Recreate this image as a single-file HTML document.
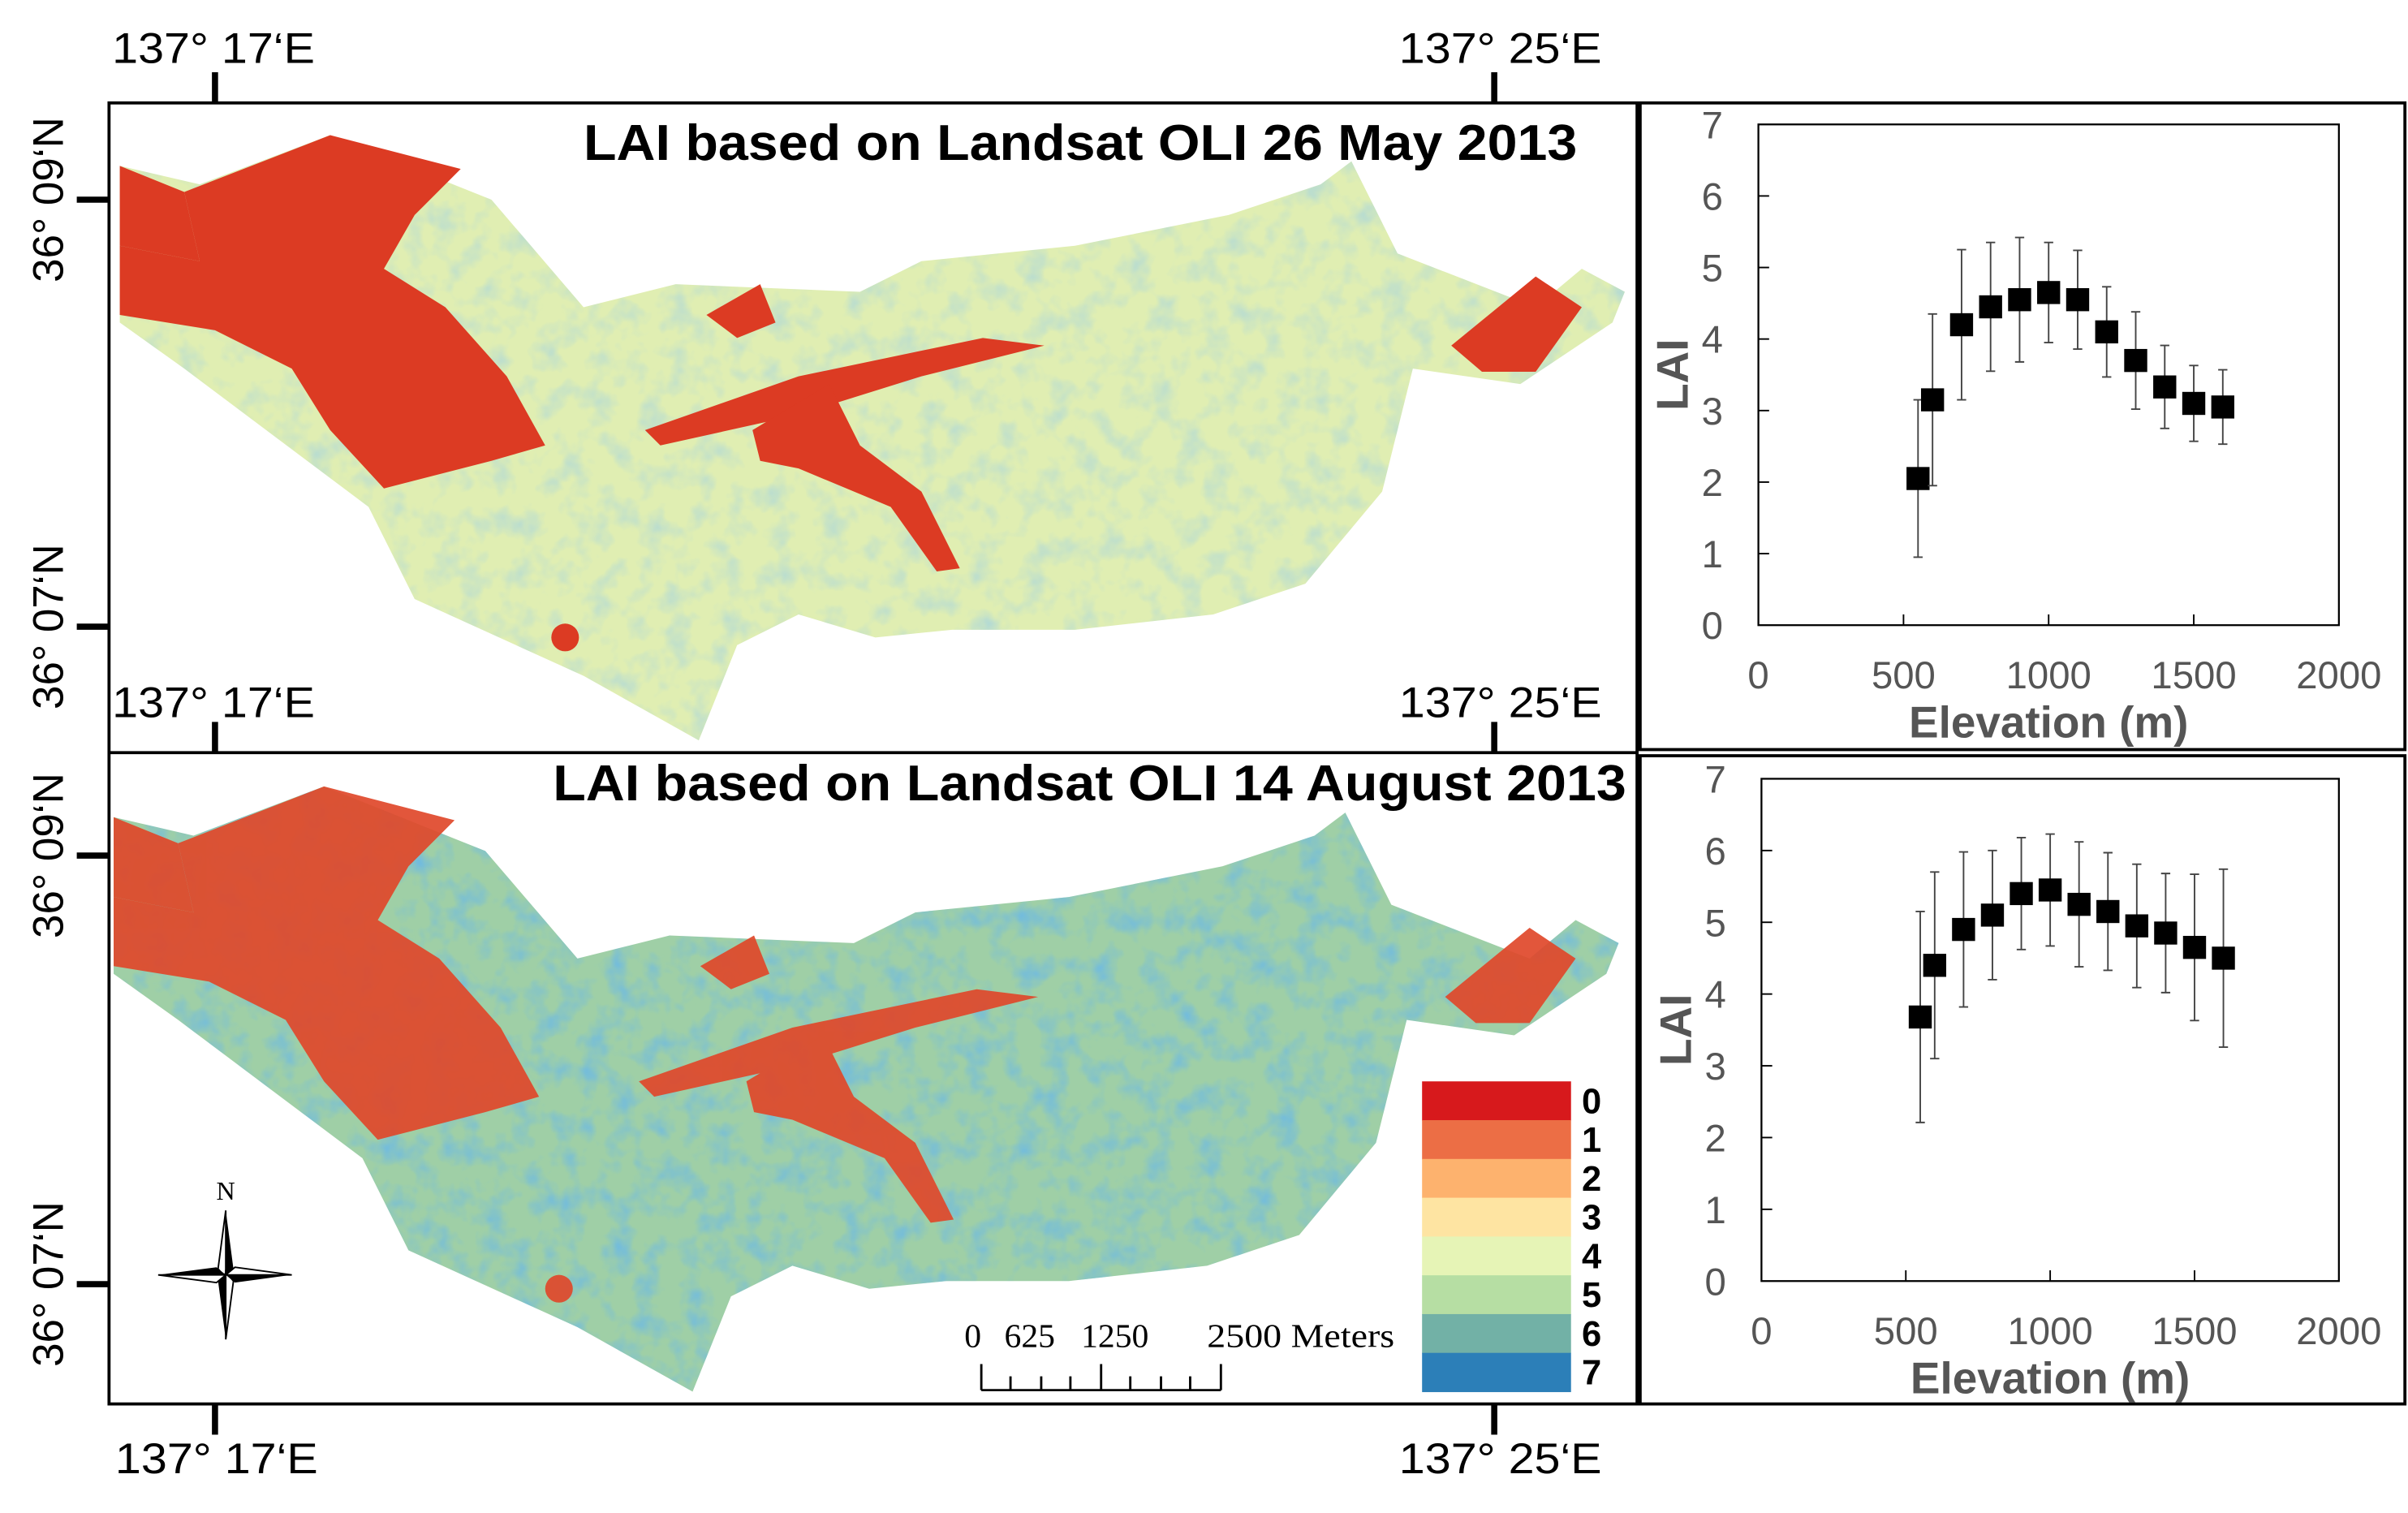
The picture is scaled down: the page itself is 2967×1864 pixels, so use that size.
<!DOCTYPE html>
<html><head><meta charset="utf-8">
<style>
html,body{margin:0;padding:0;background:#fff;}
svg{display:block;}
text{font-family:"Liberation Sans",sans-serif;}
text.serif{font-family:"Liberation Serif",serif;}
</style></head>
<body>
<svg id="fig" width="2967" height="1864" viewBox="0 0 1568 985" preserveAspectRatio="none" xmlns="http://www.w3.org/2000/svg">
<defs>
  <filter id="noiseTop" x="0" y="0" width="100%" height="100%">
    <feTurbulence type="fractalNoise" baseFrequency="0.06" numOctaves="3" seed="5"/>
    <feColorMatrix type="matrix" values="0 0 0 0 0.45  0 0 0 0 0.7  0 0 0 0 0.66  0 0 0 1.8 -0.8"/>
    <feComposite in2="SourceGraphic" operator="in"/>
  </filter>
  <filter id="noiseBot" x="0" y="0" width="100%" height="100%">
    <feTurbulence type="fractalNoise" baseFrequency="0.06" numOctaves="3" seed="9"/>
    <feColorMatrix type="matrix" values="0 0 0 0 0.17  0 0 0 0 0.5  0 0 0 0 0.72  0 0 0 2.0 -0.85"/>
    <feComposite in2="SourceGraphic" operator="in"/>
  </filter>
  <polygon id="basin" points="78,108 130,120 215,88 320,130 380,200 440,185 560,190 600,170 700,160 800,140 860,120 880,105 910,165 1000,200 1030,175 1058,190 1050,210 990,250 920,240 900,320 850,380 790,400 700,410 620,410 570,415 520,400 480,420 455,482 380,440 270,390 240,330 200,300 120,240 78,210"/>
  <g id="redzones">
    <polygon points="78,108 120,125 130,170 78,160"/>
    <polygon points="120,125 215,88 300,110 270,140 250,175 290,200 330,245 355,290 320,300 250,318 215,280 190,240 140,215 78,205 78,160 130,170"/>
    <polygon points="420,280 520,245 640,220 680,225 600,245 520,270 430,290"/>
    <polygon points="490,280 540,250 560,290 600,320 625,370 610,372 580,330 520,305 495,300"/>
    <polygon points="460,205 495,185 505,210 480,220"/>
    <polygon points="945,225 1000,180 1030,200 1000,242 965,242"/>
    <circle cx="368" cy="415" r="9"/>
  </g>
</defs>

<rect x="71" y="67" width="995" height="847" fill="none" stroke="#000" stroke-width="2"/>
<line x1="71" y1="490" x2="1066" y2="490" stroke="#000" stroke-width="2"/>
<rect x="1068" y="67" width="498" height="421" fill="none" stroke="#000" stroke-width="2"/>
<rect x="1068" y="492" width="498" height="422" fill="none" stroke="#000" stroke-width="2"/>

<g>
  <use href="#basin" fill="#e0eeb2"/>
  <use href="#basin" fill="#000" filter="url(#noiseTop)"/>
  <use href="#redzones" fill="#dc3b23"/>
</g>
<g transform="translate(-4,424)">
  <use href="#basin" fill="#9fcfa6"/>
  <use href="#basin" fill="#000" filter="url(#noiseBot)"/>
  <use href="#redzones" fill="#e0482a" opacity="0.92"/>
</g>

<text x="380" y="104" font-size="33" font-weight="bold" textLength="647" lengthAdjust="spacingAndGlyphs">LAI based on Landsat OLI 26 May 2013</text>
<text x="360" y="521" font-size="33" font-weight="bold" textLength="699" lengthAdjust="spacingAndGlyphs">LAI based on Landsat OLI 14 August 2013</text>

<g font-size="28" fill="#000">
  <text x="73" y="41" textLength="132" lengthAdjust="spacingAndGlyphs">137° 17‘E</text><text x="911" y="41" textLength="132" lengthAdjust="spacingAndGlyphs">137° 25‘E</text>
  <text x="73" y="467" textLength="132" lengthAdjust="spacingAndGlyphs">137° 17‘E</text><text x="911" y="467" textLength="132" lengthAdjust="spacingAndGlyphs">137° 25‘E</text>
  <text x="75" y="959" textLength="132" lengthAdjust="spacingAndGlyphs">137° 17‘E</text><text x="911" y="959" textLength="132" lengthAdjust="spacingAndGlyphs">137° 25‘E</text>
  <text transform="translate(41,130) rotate(-90)" text-anchor="middle">36° 09‘N</text>
  <text transform="translate(41,408) rotate(-90)" text-anchor="middle">36° 07‘N</text>
  <text transform="translate(41,557) rotate(-90)" text-anchor="middle">36° 09‘N</text>
  <text transform="translate(41,836) rotate(-90)" text-anchor="middle">36° 07‘N</text>
</g>
<g stroke="#000" stroke-width="4">
  <line x1="140" y1="47" x2="140" y2="67"/><line x1="973" y1="47" x2="973" y2="67"/>
  <line x1="140" y1="470" x2="140" y2="490"/><line x1="973" y1="470" x2="973" y2="490"/>
  <line x1="140" y1="914" x2="140" y2="934"/><line x1="973" y1="914" x2="973" y2="934"/>
  <line x1="50" y1="130" x2="71" y2="130"/><line x1="50" y1="408" x2="71" y2="408"/>
  <line x1="50" y1="557" x2="71" y2="557"/><line x1="50" y1="836" x2="71" y2="836"/>
</g>

<g id="legend"></g>

<g font-size="22">
  <text class="serif" x="628" y="877">0</text>
  <text class="serif" x="654" y="877">625</text>
  <text class="serif" x="704" y="877">1250</text>
  <text class="serif" x="786" y="877" textLength="122" lengthAdjust="spacingAndGlyphs">2500 Meters</text>
  <path d="M639,905 H795 M639,888 V905 M658,896 V905 M678,896 V905 M697,896 V905 M717,888 V905 M736,896 V905 M756,896 V905 M775,896 V905 M795,888 V905" stroke="#000" stroke-width="1.5" fill="none"/>
</g>

<g>
  <text class="serif" x="147" y="781" font-size="17" text-anchor="middle">N</text>
  <polygon points="147,788 152,826 147,832" fill="#000"/><polygon points="147,788 142,826 147,832" fill="#fff" stroke="#000"/>
  <polygon points="147,872 142,834 147,828" fill="#000"/><polygon points="147,872 152,834 147,828" fill="#fff" stroke="#000"/>
  <polygon points="103,830 141,825 147,830" fill="#000"/><polygon points="103,830 141,835 147,830" fill="#fff" stroke="#000"/>
  <polygon points="190,830 153,835 147,830" fill="#000"/><polygon points="190,830 153,825 147,830" fill="#fff" stroke="#000"/>
</g>

<g id="chartTop"></g>
<g id="chartBot"></g>
</svg>

<script>
const legendLabels = ["0","1","2","3","4","5","6","7"];
const legendColors = ["#d7191c","#ec6e45","#fdb26e","#fee4a2","#e6f4b6","#b6dea3","#72b1a6","#2c7fb8"];

const elevations = [550,600,700,800,900,1000,1100,1200,1300,1400,1500,1600];
const laiMay = [2.05,3.15,4.2,4.45,4.55,4.65,4.55,4.1,3.7,3.33,3.1,3.05];
const errMay = [1.1,1.2,1.05,0.9,0.87,0.7,0.69,0.63,0.68,0.58,0.53,0.52];
const laiAug = [3.68,4.4,4.9,5.1,5.4,5.45,5.25,5.15,4.95,4.85,4.65,4.5];
const errAug = [1.47,1.3,1.08,0.9,0.78,0.78,0.87,0.82,0.86,0.83,1.02,1.24];
const xTicks = [0,500,1000,1500,2000];
const yTicks = [0,1,2,3,4,5,6,7];

const NS = "http://www.w3.org/2000/svg";
function mk(tag, attrs, parent) {
  const e = document.createElementNS(NS, tag);
  for (const k in attrs) e.setAttribute(k, attrs[k]);
  parent.appendChild(e);
  return e;
}

const lg = document.getElementById('legend');
const bandH = 202 / legendColors.length;
legendColors.forEach((c, i) => {
  const r = mk('rect', {x:926, y:704 + i*bandH, width:97, height:bandH+0.3, fill:c}, lg);
  
  
  const t = mk('text', {x:1030, y:704 + i*bandH + bandH/2 + 8, 'font-size':23, 'font-weight':'bold'}, lg);
  t.textContent = legendLabels[i];
  
  
});

function drawChart(g, box, vals, errs) {
  const xs = v => box.x0 + (v - 0) / 2000 * (box.x1 - box.x0);
  const ys = v => box.y1 - (v - 0) / 7 * (box.y1 - box.y0);
  const frame = mk('rect', {x:box.x0, y:box.y0, width:box.x1-box.x0, height:box.y1-box.y0, fill:'none', stroke:'#000', 'stroke-width':1.2}, g);
  
  
  yTicks.forEach(v => {
    if (v > 0 && v < 7) mk('line', {x1:box.x0, x2:box.x0+7, y1:ys(v), y2:ys(v), stroke:'#000'}, g);
    const t = mk('text', {x:box.x0-30, y:ys(v)+9, 'font-size':25, fill:'#555', 'text-anchor':'middle'}, g);
    t.textContent = v;
    
    
  });
  xTicks.forEach(v => {
    if (v > 0 && v < 2000) mk('line', {x1:xs(v), x2:xs(v), y1:box.y1, y2:box.y1-7, stroke:'#000'}, g);
    const t = mk('text', {x:xs(v), y:box.y1+41, 'font-size':25, fill:'#555', 'text-anchor':'middle'}, g);
    t.textContent = v;
    
    
  });
  const yt = mk('text', {transform:`translate(${box.x0-46},${(box.y0+box.y1)/2}) rotate(-90)`, 'font-size':29, 'font-weight':'bold', fill:'#555', 'text-anchor':'middle'}, g);
  yt.textContent = 'LAI';
  
  
  const xt = mk('text', {x:(box.x0+box.x1)/2, y:box.y1+73, 'font-size':29, 'font-weight':'bold', fill:'#555', 'text-anchor':'middle'}, g);
  xt.textContent = 'Elevation (m)';
  
  
  elevations.forEach((e, i) => {
    const cx = xs(e), lo = ys(vals[i]-errs[i]), hi = ys(vals[i]+errs[i]);
    const eb = mk('path', {d:`M${cx},${lo} V${hi} M${cx-3},${lo} H${cx+3} M${cx-3},${hi} H${cx+3}`, stroke:'#444', 'stroke-width':1, fill:'none'}, g);
    
    
    const p = mk('rect', {x:cx-7.5, y:ys(vals[i])-7.5, width:15, height:15, fill:'#000'}, g);
    
    
  });
}
drawChart(document.getElementById('chartTop'), {x0:1145, x1:1523, y0:81, y1:407}, laiMay, errMay);
drawChart(document.getElementById('chartBot'), {x0:1147, x1:1523, y0:507, y1:834}, laiAug, errAug);
</script>
</body></html>
